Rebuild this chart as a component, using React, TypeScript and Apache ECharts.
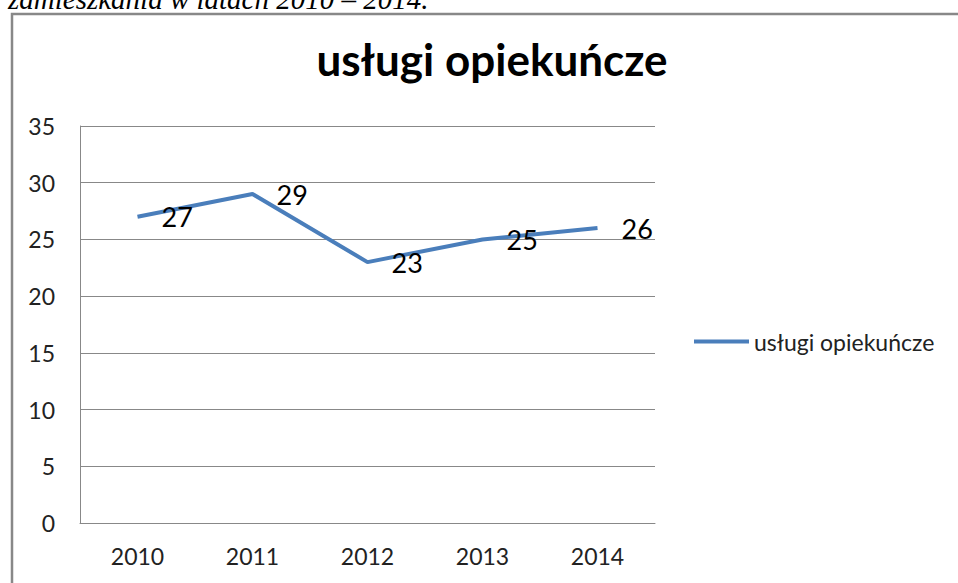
import React, { useEffect, useRef } from "react";
import * as echarts from "echarts";

const categories = ["2010", "2011", "2012", "2013", "2014"];
const values = [27, 29, 23, 25, 26];
const seriesName = "usługi opiekuńcze";
const titleText = "usługi opiekuńcze";
const captionText = "zamieszkania w latach 2010 – 2014.";

export default function App() {
  const ref = useRef<HTMLDivElement>(null);
  useEffect(() => {
    if (!ref.current) return;
    const chart = echarts.init(ref.current, null, { renderer: "svg" });
    chart.setOption({
      animation: false,
      backgroundColor: "#ffffff",
      title: {
        text: titleText,
        left: 487,
        textAlign: "center",
        top: 32,
        textStyle: { fontFamily: "Lato", fontWeight: "bold", fontSize: 44, color: "#000" },
      },
      legend: {
        left: 689,
        top: 325,
        itemWidth: 55,
        itemHeight: 4,
        itemGap: 6,
        icon: "rect",
        textStyle: { fontFamily: "Lato", fontSize: 23, color: "#222" },
        data: [{ name: seriesName, icon: "rect" }],
      },
      grid: { left: 80, right: 303, top: 126, bottom: 60, containLabel: false },
      xAxis: {
        type: "category",
        data: categories,
        boundaryGap: true,
        axisLine: { show: true, lineStyle: { color: "#888", width: 1 } },
        axisTick: { show: false },
        axisLabel: { fontFamily: "Lato", fontSize: 23, color: "#222", margin: 21 },
      },
      yAxis: {
        type: "value",
        min: 0,
        max: 35,
        interval: 5,
        axisLine: { show: true, lineStyle: { color: "#888", width: 1 } },
        axisTick: { show: false },
        splitLine: { show: true, lineStyle: { color: "#888", width: 1 } },
        axisLabel: { fontFamily: "Lato", fontSize: 23, color: "#222", margin: 25 },
      },
      series: [
        {
          name: seriesName,
          type: "line",
          data: values,
          symbol: "circle",
          symbolSize: 0,
          showSymbol: true,
          lineStyle: { color: "#4A7EBB", width: 4 },
          itemStyle: { color: "#4A7EBB" },
          label: {
            show: true,
            position: "right",
            distance: 24,
            fontFamily: "Lato",
            fontSize: 27,
            color: "#000",
          },
        },
      ],
      graphic: [
        {
          type: "rect",
          shape: { x: 12, y: 14, width: 1000, height: 700 },
          style: { fill: "none", stroke: "#888", lineWidth: 2.5 },
          silent: true,
          z: -1,
        },
        {
          type: "text",
          x: 8,
          y: 13,
          style: {
            text: captionText,
            font: "italic 29px 'Liberation Serif'",
            fill: "#000",
            verticalAlign: "bottom",
          },
        },
      ],
    });
    return () => chart.dispose();
  }, []);
  return (
    <div
      ref={ref}
      style={{ position: "fixed", left: 0, top: 0, width: 958, height: 583 }}
    />
  );
}
